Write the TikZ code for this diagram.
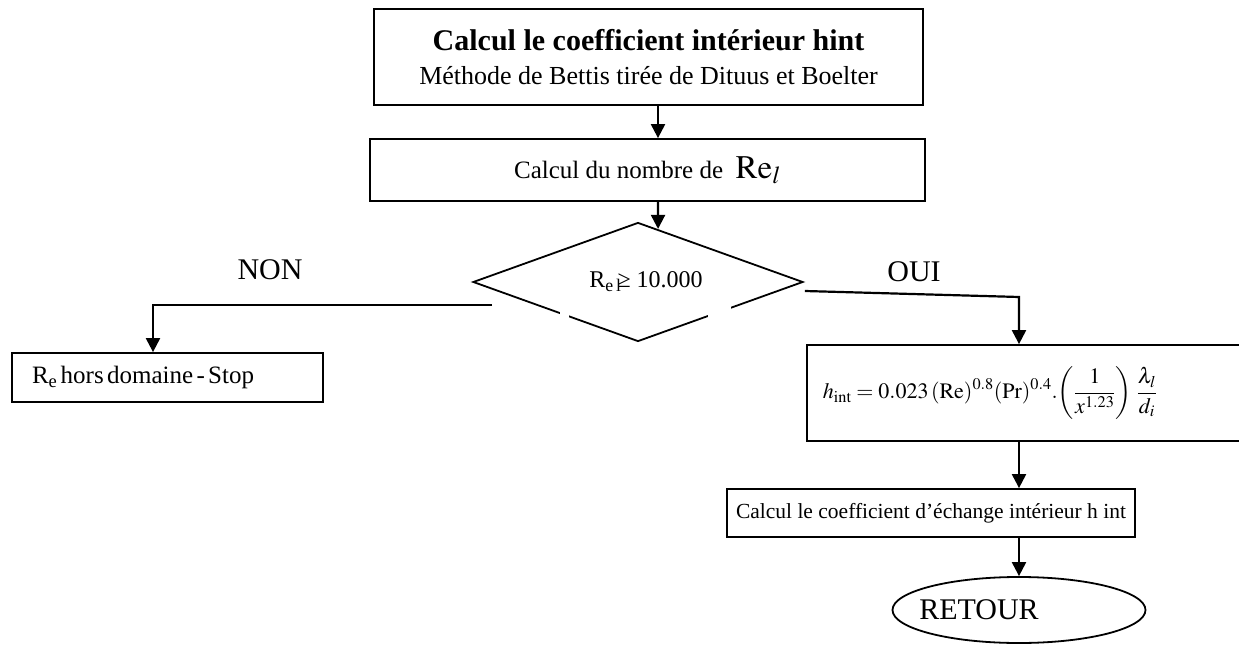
\documentclass[tikz,border=0pt]{standalone}
\usepackage{mathptmx}
\usepackage{fontspec}
\setmainfont{Liberation Serif}
\usetikzlibrary{arrows.meta,shapes.geometric,calc}

\begin{document}
\begin{tikzpicture}[x=1pt,y=-1pt,
  box/.style={draw,line width=1.8pt,rectangle,inner sep=0pt},
  arr/.style={line width=2.2pt,-{Triangle[length=14pt,width=14pt]}},
  lbl/.style={font=\fontsize{30}{34}\selectfont}
]
\useasboundingbox (0,0) rectangle (1239,652);

% columns along which the vertical arrows run
\coordinate (colA) at (658,0);
\coordinate (colB) at (1019,0);
\coordinate (colC) at (153,0);

% title box
\node[box,minimum width=549pt,minimum height=96pt,align=center,
      font=\fontsize{26}{34}\selectfont] (b1) at (648.5,57)
  {{\bfseries\fontsize{30}{34}\selectfont Calcul le coefficient intérieur hint}\\
   Méthode de Bettis tirée de Dituus et Boelter};

% Reynolds number
\node[box,minimum width=555pt,minimum height=62pt] (b2) at (647.5,170)
  {\fontsize{25}{30}\selectfont Calcul du nombre de \ {\fontsize{33}{36}\selectfont$\mathrm{Re}_{l}$}};

% test
\node[draw,line width=1.8pt,shape=diamond,aspect=2.77,minimum width=330pt,minimum height=119pt,inner sep=0pt]
  (dia) at (638,282)
  {\hspace*{16pt}\fontsize{24}{28}\selectfont R\textsubscript{e\,l}\kern-4pt≥ 10.000};
% breaks in the lower edges of the diamond
\fill[white] (560,309) rectangle (569,322);
\fill[white] (708,303) rectangle (731,322);

% out of range
\node[box,minimum width=311pt,minimum height=49pt,text width=271pt,align=left,inner xsep=20pt] (stop) at (167.5,377.5)
  {\fontsize{25}{30}\selectfont R\textsubscript{e} hors domaine - Stop};

% correlation
\node[box,minimum width=422pt,minimum height=96pt,text width=406pt,align=left,inner xsep=16pt,anchor=west] (corr) at (806,393)
  {\fontsize{22}{26}\selectfont
   $\displaystyle h_{\mathrm{int}} = 0.023\,(\mathrm{Re})^{0.8}(\mathrm{Pr})^{0.4}.\!\left(\frac{1}{x^{1.23}}\right)\,\frac{\lambda_{l}}{d_{i}}$};

% exchange coefficient
\node[box,minimum width=408pt,minimum height=48pt] (ech) at (931,513)
  {\fontsize{21.5}{26}\selectfont Calcul le coefficient d’échange intérieur h int};

% end
\node[draw,line width=1.8pt,ellipse,minimum width=253pt,minimum height=66pt,inner sep=0pt] (ret) at (1019,610)
  {\fontsize{30}{34}\selectfont\makebox[0pt]{\hspace*{-80pt}RETOUR}};

% branch labels
\node[lbl] (non) at (270,270) {NON};
\node[lbl] (oui) at (914,272) {OUI};

% connectors
\coordinate (nstart) at (492,305);
\coordinate (ostart) at ($(dia.east)+(1,9)$);
\coordinate (obend) at (1019,297);

\draw[arr] (b1.south -| colA) -- (b2.north -| colA);
\draw[arr] (b2.south -| colA) -- ($(dia.north)!0.121!(dia.east)$);
\draw[arr] (nstart) -- (nstart -| colC) -- (stop.north -| colC);
\draw[arr] (ostart) -- (obend) -- (corr.north -| colB);
\draw[arr] (corr.south -| colB) -- (ech.north -| colB);
\draw[arr] (ech.south -| colB) -- (ret.north);
\end{tikzpicture}
\end{document}
